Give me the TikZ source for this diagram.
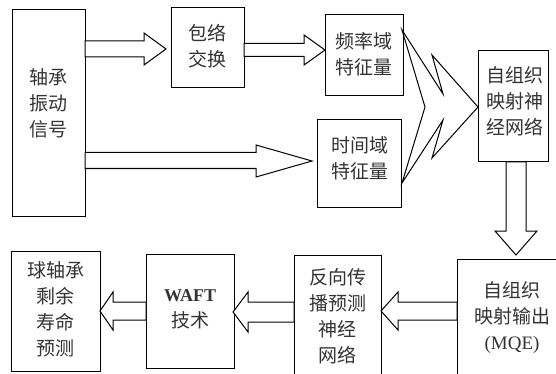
\documentclass[tikz,border=0pt]{standalone}
\usepackage{fontspec}
\setmainfont{Liberation Serif}
\newfontfamily\cjk{Noto Sans CJK SC}
\begin{document}
\begin{tikzpicture}[x=1pt,y=-1pt,
  box/.style={draw, line width=1pt, inner sep=0pt, outer sep=0pt},
  txt/.style={text=black!80, font=\cjk\fontsize{19}{26}\selectfont, align=center, inner sep=0pt},
  barrow/.style={draw, fill=white, line width=1pt, line join=miter}]
\clip (0,0) rectangle (556,374);
\fill[white] (0,0) rectangle (556,374);
% boxes
\node[box, minimum width=73pt, minimum height=206pt] (sig) at (48.5,113) {};
\node[box, minimum width=73pt, minimum height=80pt] (env) at (207.5,48) {};
\node[box, minimum width=78pt, minimum height=81pt] (freq) at (364,55.5) {};
\node[box, minimum width=84pt, minimum height=87pt] (time) at (359,163.5) {};
\node[box, minimum width=70pt, minimum height=111pt] (som) at (513,106.5) {};
\node[box, minimum width=143pt, minimum height=141pt] (mqe) at (528.5,329.5) {};
\node[box, minimum width=87pt, minimum height=145pt] (bp) at (337.5,327.5) {};
\node[box, minimum width=88pt, minimum height=114pt] (waft) at (190,311) {};
\node[box, minimum width=89pt, minimum height=120pt] (life) at (55.5,311) {};
% texts
\node[txt] (tsig) at (48.5,103) {轴承\\振动\\信号};
\node[txt] (tenv) at (207.5,46) {包络\\交换};
\node[txt] (tfreq) at (363.5,54) {频率域\\特征量};
\node[txt] (ttime) at (360,158) {时间域\\特征量};
\node[txt] (tsom) at (515,101) {自组织\\映射神\\经网络};
\node[txt] (tmqe) at (512,318) {自组织\\映射输出\\{\rmfamily\fontsize{19}{26}\selectfont (MQE)}};
\node[txt] (tbp) at (337.5,316) {反向传\\播预测\\神经\\网络};
\node[txt] (twaft) at (190,309) {{\rmfamily\bfseries\fontsize{18}{26}\selectfont WAFT}\\技术};
\node[txt] (tlife) at (55.5,309) {球轴承\\剩余\\寿命\\预测};
% block arrows
\draw[barrow] (sig.east |- 0,41) -- (144,41) -- (144,33) -- (166,49) -- (144,65) -- (144,57) -- (sig.east |- 0,57) -- cycle;
\draw[barrow] (env.east |- 0,43.5) -- (304,43.5) -- (304,35) -- (325,50) -- (304,65) -- (304,56.5) -- (env.east |- 0,56.5) -- cycle;
\draw[barrow] (sig.east |- 0,152.5) -- (256,152.5) -- (256,145) -- (312,161) -- (256,177) -- (256,168.5) -- (sig.east |- 0,168.5) -- cycle;
\draw[barrow] (506,0 |- som.south) -- (506,231) -- (495,231) -- (516,255) -- (537,231) -- (526,231) -- (526,0 |- som.south) -- cycle;
\draw[barrow] (mqe.west |- 0,302) -- (398,302) -- (398,292) -- (381,311) -- (398,330) -- (398,320) -- (mqe.west |- 0,320) -- cycle;
\draw[barrow] (bp.west |- 0,302) -- (248,302) -- (248,292) -- (233,312) -- (248,332) -- (248,322) -- (bp.west |- 0,322) -- cycle;
\draw[barrow] (waft.west |- 0,302) -- (113,302) -- (113,292) -- (100,311) -- (113,330) -- (113,320) -- (waft.west |- 0,320) -- cycle;
% merging chevron
\coordinate (cA) at (402,30);
\coordinate (cC) at (402,183);
\draw[barrow] (cA) -- (443,94) -- (432,55) -- (som.west |- 0,107) -- (432,158) -- (443,120) -- (cC) -- (425,107) -- cycle;
\end{tikzpicture}
\end{document}
